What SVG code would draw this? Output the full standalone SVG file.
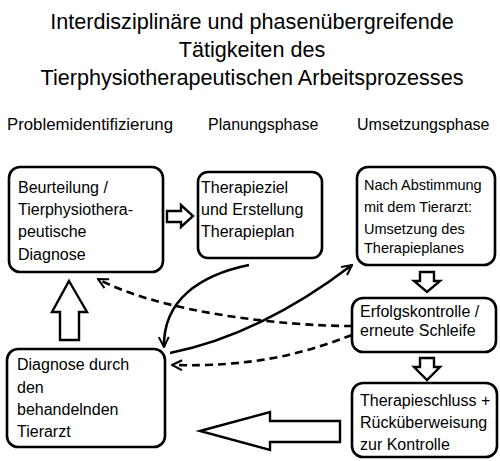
<svg xmlns="http://www.w3.org/2000/svg" width="500" height="461" viewBox="0 0 500 461">
<defs>
<style>
text{font-family:"Liberation Sans",Arial,sans-serif;fill:#000}
.title{font-size:21.6px;text-anchor:middle}
.hdr{font-size:16px}
.t{font-size:16px}
.ts{font-size:14.5px}
.box{fill:#fff;stroke:#000;stroke-width:2.6}
.blk{fill:#fff;stroke:#000;stroke-width:2.4;stroke-linejoin:miter}
.con{fill:none;stroke:#000;stroke-width:2.6}
.dash{stroke-dasharray:8 5}
</style>
<marker id="ah" viewBox="0 0 12 12" refX="11" refY="6" markerWidth="12" markerHeight="12" markerUnits="userSpaceOnUse" orient="auto">
<path d="M1,1 L11,6 L1,11" fill="none" stroke="#000" stroke-width="2"/>
</marker>
</defs>
<rect width="500" height="461" fill="#fff"/>
<g id="title">
<text class="title" x="252" y="29">Interdisziplinäre und phasenübergreifende</text>
<text class="title" x="252" y="57">Tätigkeiten des</text>
<text class="title" x="252" y="85">Tierphysiotherapeutischen Arbeitsprozesses</text>
</g>
<g id="headers">
<text class="hdr" x="7" y="130" textLength="166" lengthAdjust="spacingAndGlyphs">Problemidentifizierung</text>
<text class="hdr" x="208" y="130">Planungsphase</text>
<text class="hdr" x="357" y="130">Umsetzungsphase</text>
</g>
<g id="connectors">
<polygon class="blk" points="167,211 181,211 181,205 193,216 181,227 181,222 167,222"/>
<polygon class="blk" points="420,272 434,272 434,281 440,281 427,292 414,281 420,281"/>
<polygon class="blk" points="420,358 434,358 434,367 440,367 427,380 414,367 420,367"/>
<polygon class="blk" points="69,281 87,312 79,312 79,340 60,340 60,312 52,312"/>
<polygon class="blk" points="200,431 270,412 270,421 340,421 340,442 270,442 270,450"/>
<path class="con" d="M249,265 C200,275 163,300 164,347" marker-end="url(#ah)"/>
<path class="con" d="M170,353 Q260,335 352,265" marker-end="url(#ah)"/>
<path class="con dash" d="M352,326 C280,326 160,312 98,279" marker-end="url(#ah)"/>
<path class="con dash" d="M352,335 C300,355 250,367 172,365" marker-end="url(#ah)"/>
</g>
<g id="n1">
<rect class="box" x="9" y="167" width="154" height="105" rx="11"/>
<text class="t" x="18" y="193">Beurteilung /</text>
<text class="t" x="18" y="215">Tierphysiothera-</text>
<text class="t" x="18" y="237">peutische</text>
<text class="t" x="18" y="260">Diagnose</text>
</g>
<g id="n2">
<rect class="box" x="198" y="172" width="124" height="86" rx="10"/>
<text class="t" x="201" y="193">Therapieziel</text>
<text class="t" x="201" y="215">und Erstellung</text>
<text class="t" x="201" y="237">Therapieplan</text>
</g>
<g id="n3">
<rect class="box" x="357" y="167" width="138" height="98" rx="11"/>
<text class="ts" x="364" y="190">Nach Abstimmung</text>
<text class="ts" x="364" y="212">mit dem Tierarzt:</text>
<text class="ts" x="364" y="234">Umsetzung des</text>
<text class="ts" x="364" y="253">Therapieplanes</text>
</g>
<g id="n4">
<rect class="box" x="352" y="298" width="144" height="54" rx="11"/>
<text class="t" x="360" y="317">Erfolgskontrolle /</text>
<text class="t" x="360" y="336">erneute Schleife</text>
</g>
<g id="n5">
<rect class="box" x="352" y="383" width="145" height="74" rx="11"/>
<text class="t" x="360" y="406">Therapieschluss +</text>
<text class="t" x="360" y="428">Rücküberweisung</text>
<text class="t" x="360" y="450">zur Kontrolle</text>
</g>
<g id="n6">
<rect class="box" x="7" y="349" width="158" height="98" rx="11"/>
<text class="t" x="17" y="370">Diagnose durch</text>
<text class="t" x="17" y="393">den</text>
<text class="t" x="17" y="415">behandelnden</text>
<text class="t" x="17" y="437">Tierarzt</text>
</g>
</svg>
